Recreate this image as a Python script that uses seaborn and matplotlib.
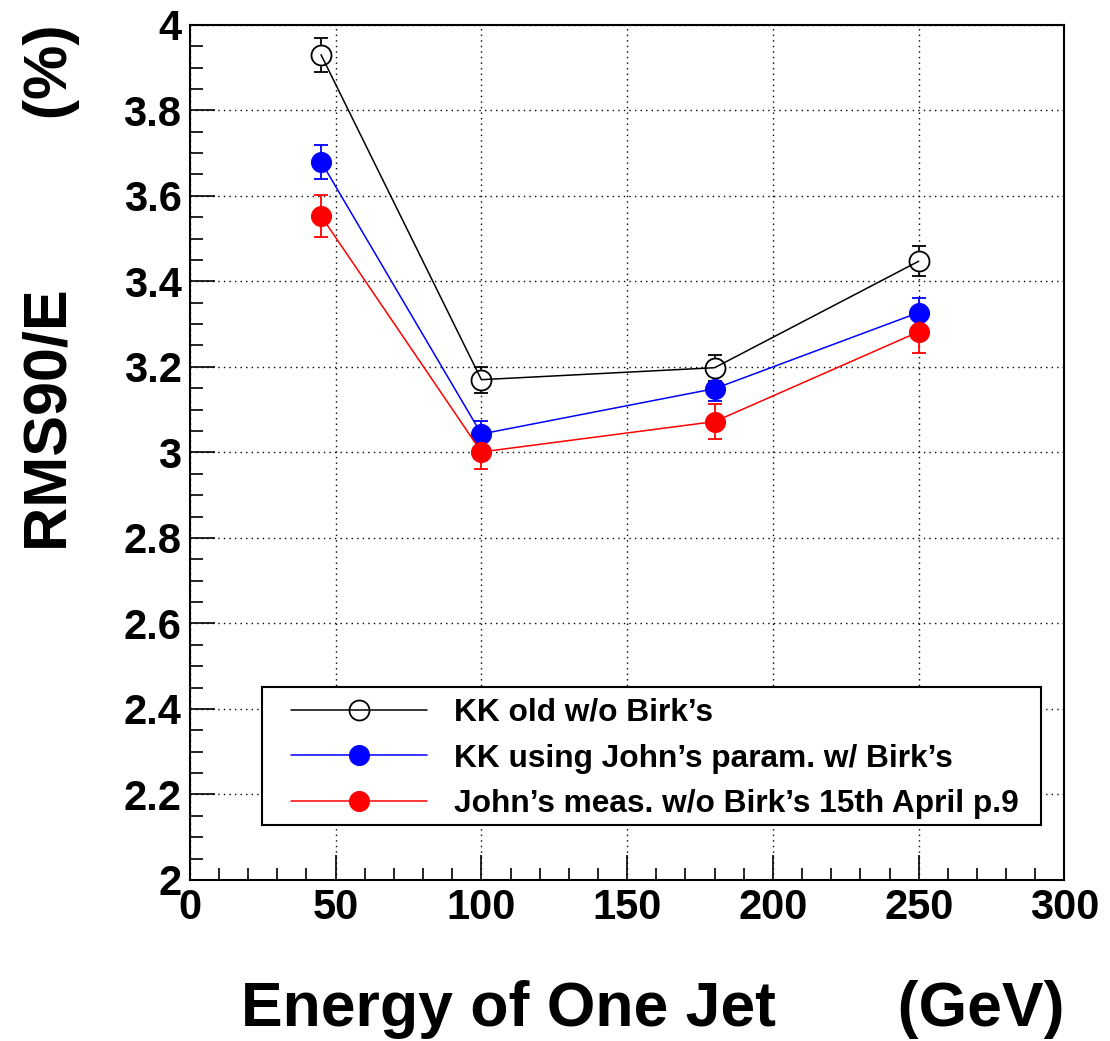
import numpy as np
import pandas as pd
import seaborn as sns
from matplotlib import pyplot as plt
from matplotlib.patches import Rectangle
from matplotlib.ticker import MultipleLocator

# jet energy (GeV)
energy = [45, 100, 180, 250]

# RMS90/E (%) and errors for each configuration
kk_old = [3.93, 3.17, 3.198, 3.447]
kk_old_err = [0.04, 0.03, 0.03, 0.035]
kk_john = [3.68, 3.043, 3.149, 3.327]
kk_john_err = [0.04, 0.03, 0.03, 0.035]
john_meas = [3.553, 3.001, 3.072, 3.282]
john_meas_err = [0.05, 0.04, 0.04, 0.05]

labels = ["KK old w/o Birk\u2019s",
          "KK using John\u2019s param. w/ Birk\u2019s",
          "John\u2019s meas. w/o Birk\u2019s 15th April p.9"]
colors = ["black", "blue", "red"]

sns.set_theme(style="white", rc={"text.color": "black", "axes.labelcolor": "black",
                                 "xtick.color": "black", "ytick.color": "black"})
plt.rcParams['font.family'] = ['Liberation Sans', 'DejaVu Sans']
plt.rcParams['font.weight'] = 'bold'

fig = plt.figure(figsize=(11.1, 10.41), dpi=100)
ax = fig.add_axes([0.171, 0.1547, 0.788, 0.8215])

series = [(kk_old, kk_old_err), (kk_john, kk_john_err), (john_meas, john_meas_err)]
for (vals, errs), lab, c in zip(series, labels, colors):
  df = pd.DataFrame({"energy": energy, "rms": vals})
  ax.errorbar(df["energy"], df["rms"], yerr=errs, fmt="none", ecolor=c,
              elinewidth=1.3, capsize=5, capthick=1.3, zorder=2)
  if c == "black":
    # white backing so the error bar does not show inside the hollow marker
    ax.plot(df["energy"], df["rms"], "o", ms=14.4, mfc="white", mec="white", zorder=3)
    sns.lineplot(data=df, x="energy", y="rms", ax=ax, color=c, lw=1.1,
                 marker="o", ms=14.4, mfc="none", mec=c, mew=1.3,
                 label=lab, zorder=4)
  else:
    sns.lineplot(data=df, x="energy", y="rms", ax=ax, color=c, lw=1.1,
                 marker="o", ms=14.4, mfc=c, mec=c,
                 label=lab, zorder=4)

ax.set_xlim(0, 300)
ax.set_ylim(2, 4)
ax.xaxis.set_minor_locator(MultipleLocator(10))
ax.yaxis.set_minor_locator(MultipleLocator(0.05))
ax.set_yticks(np.arange(2, 4.01, 0.2))
ax.set_yticklabels(["2", "2.2", "2.4", "2.6", "2.8", "3", "3.2", "3.4", "3.6", "3.8", "4"])
ax.set_xticks([0, 50, 100, 150, 200, 250, 300])
ax.set_xticklabels(["0", "50", "100", "150", "200", "250", "300"])

ax.tick_params(which="both", direction="in", width=1.2, colors="black",
               labelsize=30, top=False, right=False, left=True, bottom=True)
ax.tick_params(which="major", length=18, pad=6)
ax.tick_params(which="minor", length=9)
for lab in ax.get_xticklabels() + ax.get_yticklabels():
  lab.set_fontweight("bold")

ax.grid(True, which="major", color="black", linestyle=(0, (1, 3)), linewidth=1.0)
for s in ax.spines.values():
  s.set_color("black")
  s.set_linewidth(1.5)

ax.set_xlabel("Energy of One Jet       (GeV)", fontsize=45, fontweight="bold", loc="right")
ax.xaxis.set_label_coords(1.0, -0.117)
ax.set_ylabel("RMS90/E          (%)", fontsize=44, fontweight="bold", loc="top")
ax.yaxis.set_label_coords(-0.126, 1.0)

# legend frame drawn separately, entries placed inside it
ax.add_patch(Rectangle((0.0823, 0.0643), 0.8914, 0.1614, transform=ax.transAxes,
                       facecolor="white", edgecolor="black", linewidth=1.5, zorder=5))
leg = ax.legend(loc="center left", bbox_to_anchor=(0.1154, 0.142),
                borderaxespad=0, borderpad=0, fontsize=22.8, handlelength=4.3,
                handletextpad=0.85, labelspacing=0.5, frameon=False)
leg.set_zorder(6)
for t in leg.get_texts():
  t.set_fontweight("bold")

fig.savefig("out.png", dpi=100)
